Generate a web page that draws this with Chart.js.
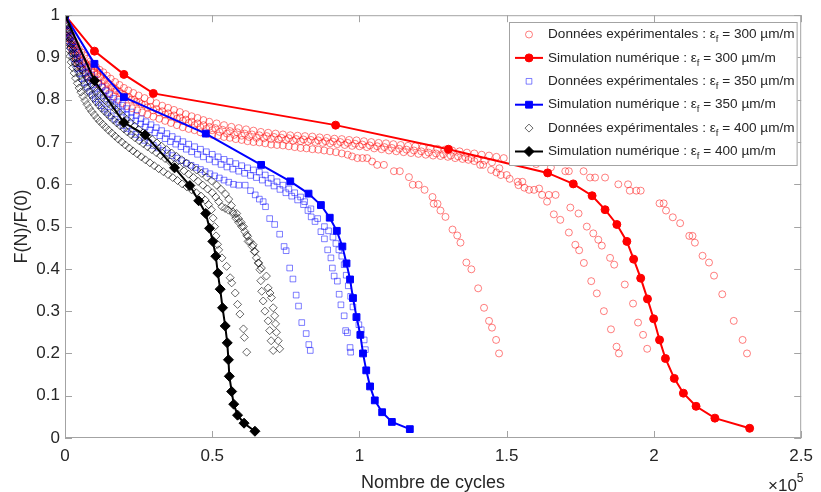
<!DOCTYPE html>
<html><head><meta charset="utf-8">
<script src="https://cdn.jsdelivr.net/npm/chart.js@4"></script>
<style>html,body{margin:0;padding:0;background:#fff}</style>
</head><body>
<canvas id="c" width="821" height="492" style="display:block;width:821px;height:492px"></canvas>
<script>
// x values are in units of 10^5 cycles, y = F(N)/F(0)
const xTicks = [0, 0.5, 1, 1.5, 2, 2.5];
const yTicks = [0, 0.1, 0.2, 0.3, 0.4, 0.5, 0.6, 0.7, 0.8, 0.9, 1];

const legendLabels = [
  ['Données expérimentales : ε', 'f', ' = 300 µm/m'],
  ['Simulation numérique : ε', 'f', ' = 300 µm/m'],
  ['Données expérimentales : ε', 'f', ' = 350 µm/m'],
  ['Simulation numérique : ε', 'f', ' = 350 µm/m'],
  ['Données expérimentales : ε', 'f', ' = 400 µm/m'],
  ['Simulation numérique : ε', 'f', ' = 400 µm/m']
];

// Simulations
const sim300 = [[0,1],[0.1,0.915],[0.2,0.86],[0.3,0.815],[0.919,0.74],[1.302,0.683],[1.639,0.627],[1.726,0.601],[1.79,0.573],[1.834,0.54],[1.874,0.505],[1.908,0.465],[1.931,0.423],[1.955,0.378],[1.978,0.329],[1.999,0.282],[2.019,0.232],[2.039,0.188],[2.069,0.141],[2.1,0.106],[2.143,0.075],[2.207,0.047],[2.325,0.023]];
const sim350 = [[0,1],[0.1,0.885],[0.2,0.806],[0.478,0.72],[0.666,0.646],[0.765,0.607],[0.827,0.578],[0.869,0.551],[0.899,0.521],[0.923,0.49],[0.942,0.453],[0.956,0.413],[0.968,0.375],[0.978,0.331],[0.99,0.286],[1.003,0.244],[1.012,0.2],[1.023,0.16],[1.036,0.122],[1.052,0.089],[1.077,0.061],[1.11,0.038],[1.171,0.021]];
const sim400 = [[0,1],[0.1,0.845],[0.2,0.746],[0.272,0.717],[0.372,0.639],[0.424,0.597],[0.454,0.561],[0.478,0.531],[0.491,0.496],[0.502,0.465],[0.512,0.43],[0.519,0.39],[0.527,0.352],[0.535,0.308],[0.544,0.265],[0.551,0.225],[0.555,0.185],[0.558,0.146],[0.566,0.11],[0.573,0.08],[0.586,0.054],[0.608,0.035],[0.645,0.016]];

// Experimental, 300 µm/m
const expR1 = [[0,1],[0.004,0.975],[0.008,0.96],[0.013,0.945],[0.018,0.93],[0.024,0.917],[0.03,0.905],[0.037,0.895],[0.045,0.885],[0.052,0.877],[0.06,0.87],[0.07,0.862],[0.08,0.855],[0.09,0.85],[0.1,0.845],[0.112,0.837],[0.125,0.83],[0.137,0.822],[0.15,0.815],[0.165,0.807],[0.18,0.8],[0.195,0.792],[0.21,0.785],[0.228,0.78],[0.245,0.775],[0.262,0.77],[0.28,0.765],[0.3,0.76],[0.32,0.755],[0.34,0.75],[0.36,0.745],[0.38,0.74],[0.4,0.735],[0.42,0.731],[0.44,0.728],[0.46,0.723],[0.48,0.72],[0.5,0.717],[0.52,0.715],[0.54,0.712],[0.56,0.71],[0.58,0.707],[0.6,0.705],[0.62,0.702],[0.64,0.7],[0.66,0.699],[0.68,0.697],[0.7,0.694],[0.72,0.693],[0.74,0.692],[0.76,0.69],[0.78,0.688],[0.8,0.686],[0.82,0.685],[0.84,0.683],[0.86,0.682],[0.88,0.68],[0.9,0.678],[0.92,0.676],[0.94,0.673],[0.96,0.67],[0.975,0.666],[0.993,0.662],[1.01,0.662],[1.026,0.662],[1.043,0.654],[1.06,0.646],[1.083,0.646],[1.117,0.631],[1.137,0.631],[1.168,0.617],[1.181,0.599],[1.201,0.599],[1.221,0.587],[1.248,0.57],[1.252,0.554],[1.265,0.554],[1.275,0.538],[1.292,0.523],[1.316,0.493],[1.332,0.479],[1.343,0.462],[1.363,0.415],[1.38,0.399],[1.403,0.354],[1.423,0.308],[1.44,0.277],[1.45,0.261],[1.464,0.232],[1.474,0.2]];
const expR2 = [[0,1],[0.005,0.978],[0.01,0.965],[0.016,0.952],[0.022,0.94],[0.028,0.93],[0.035,0.92],[0.042,0.91],[0.05,0.9],[0.06,0.892],[0.07,0.885],[0.08,0.877],[0.09,0.87],[0.1,0.865],[0.11,0.86],[0.122,0.852],[0.135,0.845],[0.147,0.837],[0.16,0.83],[0.175,0.822],[0.19,0.815],[0.207,0.808],[0.225,0.8],[0.242,0.795],[0.26,0.79],[0.28,0.782],[0.3,0.775],[0.32,0.77],[0.34,0.765],[0.36,0.76],[0.38,0.755],[0.4,0.75],[0.42,0.745],[0.44,0.74],[0.46,0.735],[0.48,0.731],[0.5,0.728],[0.525,0.724],[0.55,0.72],[0.575,0.717],[0.6,0.715],[0.625,0.712],[0.65,0.71],[0.675,0.709],[0.7,0.707],[0.725,0.706],[0.75,0.705],[0.775,0.703],[0.8,0.702],[0.825,0.701],[0.85,0.7],[0.875,0.698],[0.9,0.697],[0.925,0.695],[0.95,0.693],[0.975,0.691],[1.0,0.69],[1.025,0.688],[1.05,0.685],[1.075,0.683],[1.1,0.68],[1.125,0.678],[1.15,0.676],[1.175,0.674],[1.2,0.672],[1.225,0.67],[1.25,0.668],[1.275,0.667],[1.3,0.665],[1.325,0.662],[1.35,0.66],[1.37,0.658],[1.39,0.655],[1.41,0.646],[1.42,0.646],[1.447,0.634],[1.465,0.628],[1.48,0.622],[1.51,0.613],[1.54,0.598],[1.56,0.592],[1.576,0.587],[1.593,0.587],[1.62,0.575],[1.637,0.559],[1.66,0.529],[1.682,0.516],[1.711,0.486],[1.733,0.457],[1.746,0.444],[1.762,0.414],[1.787,0.371],[1.806,0.342],[1.83,0.3],[1.854,0.257],[1.873,0.216],[1.881,0.2]];
const expR3 = [[0,1],[0.006,0.975],[0.012,0.96],[0.019,0.947],[0.026,0.935],[0.033,0.925],[0.04,0.915],[0.049,0.905],[0.058,0.895],[0.068,0.887],[0.078,0.88],[0.089,0.873],[0.1,0.868],[0.11,0.861],[0.12,0.855],[0.132,0.847],[0.145,0.84],[0.157,0.833],[0.17,0.826],[0.185,0.819],[0.2,0.812],[0.217,0.806],[0.235,0.8],[0.252,0.794],[0.27,0.788],[0.29,0.783],[0.31,0.778],[0.33,0.773],[0.35,0.768],[0.37,0.763],[0.39,0.758],[0.41,0.753],[0.43,0.748],[0.45,0.744],[0.47,0.74],[0.49,0.736],[0.51,0.733],[0.535,0.729],[0.56,0.726],[0.585,0.723],[0.61,0.72],[0.635,0.718],[0.66,0.716],[0.685,0.714],[0.71,0.712],[0.735,0.71],[0.76,0.709],[0.785,0.707],[0.81,0.706],[0.835,0.705],[0.86,0.704],[0.885,0.702],[0.91,0.701],[0.935,0.7],[0.96,0.698],[0.985,0.696],[1.01,0.694],[1.035,0.692],[1.06,0.69],[1.085,0.688],[1.11,0.686],[1.135,0.684],[1.16,0.682],[1.185,0.68],[1.21,0.678],[1.235,0.675],[1.26,0.673],[1.285,0.671],[1.31,0.668],[1.335,0.666],[1.36,0.664],[1.38,0.662],[1.4,0.66],[1.425,0.656],[1.45,0.652],[1.475,0.638],[1.5,0.622],[1.537,0.606],[1.553,0.606],[1.61,0.59],[1.643,0.575],[1.666,0.575],[1.716,0.545],[1.744,0.531],[1.772,0.5],[1.794,0.484],[1.811,0.469],[1.823,0.455],[1.851,0.426],[1.865,0.41],[1.901,0.363],[1.929,0.318],[1.946,0.273],[1.963,0.244],[1.977,0.211]];
const expR4 = [[0,1],[0.007,0.98],[0.014,0.965],[0.022,0.952],[0.03,0.94],[0.038,0.93],[0.047,0.92],[0.056,0.912],[0.065,0.905],[0.075,0.897],[0.085,0.89],[0.095,0.884],[0.105,0.878],[0.117,0.871],[0.13,0.865],[0.142,0.857],[0.155,0.85],[0.17,0.842],[0.185,0.835],[0.2,0.828],[0.215,0.822],[0.232,0.816],[0.25,0.81],[0.27,0.804],[0.29,0.798],[0.31,0.792],[0.33,0.786],[0.35,0.781],[0.37,0.776],[0.39,0.771],[0.41,0.766],[0.43,0.761],[0.45,0.757],[0.47,0.752],[0.49,0.748],[0.515,0.744],[0.54,0.74],[0.565,0.736],[0.59,0.733],[0.615,0.73],[0.64,0.727],[0.665,0.724],[0.69,0.722],[0.715,0.72],[0.74,0.718],[0.765,0.716],[0.79,0.715],[0.815,0.714],[0.84,0.713],[0.865,0.711],[0.89,0.71],[0.915,0.708],[0.94,0.707],[0.965,0.705],[0.99,0.704],[1.015,0.702],[1.04,0.7],[1.065,0.698],[1.09,0.697],[1.115,0.695],[1.14,0.693],[1.165,0.691],[1.19,0.69],[1.215,0.688],[1.24,0.686],[1.265,0.684],[1.29,0.682],[1.315,0.68],[1.34,0.678],[1.365,0.675],[1.39,0.673],[1.415,0.67],[1.44,0.668],[1.465,0.665],[1.49,0.662],[1.55,0.655],[1.6,0.648],[1.65,0.64],[1.699,0.631],[1.711,0.631],[1.761,0.631],[1.783,0.616],[1.8,0.616],[1.834,0.616],[1.879,0.6],[1.912,0.6],[1.918,0.585],[1.94,0.585],[1.955,0.585],[2.019,0.555],[2.033,0.555],[2.041,0.538],[2.064,0.522],[2.089,0.508],[2.12,0.478],[2.131,0.478],[2.139,0.462],[2.165,0.431],[2.187,0.415],[2.204,0.384],[2.232,0.34],[2.271,0.277],[2.301,0.232],[2.316,0.2]];

// Experimental, 350 µm/m
const expB1 = [[0,1],[0.004,0.975],[0.008,0.958],[0.013,0.94],[0.018,0.925],[0.024,0.91],[0.03,0.897],[0.036,0.885],[0.043,0.873],[0.05,0.862],[0.058,0.85],[0.066,0.84],[0.075,0.83],[0.084,0.82],[0.093,0.811],[0.103,0.802],[0.113,0.794],[0.123,0.786],[0.134,0.778],[0.145,0.77],[0.157,0.762],[0.17,0.754],[0.183,0.747],[0.197,0.739],[0.21,0.732],[0.225,0.725],[0.24,0.718],[0.255,0.711],[0.27,0.704],[0.285,0.698],[0.3,0.692],[0.316,0.686],[0.332,0.68],[0.348,0.674],[0.364,0.668],[0.38,0.662],[0.396,0.656],[0.412,0.65],[0.428,0.645],[0.444,0.64],[0.46,0.635],[0.476,0.63],[0.492,0.625],[0.508,0.62],[0.524,0.615],[0.54,0.61],[0.556,0.605],[0.572,0.6],[0.59,0.598],[0.612,0.598],[0.63,0.585],[0.646,0.575],[0.66,0.565],[0.673,0.559],[0.681,0.547],[0.695,0.519],[0.712,0.505],[0.729,0.482],[0.744,0.453],[0.751,0.443],[0.763,0.402],[0.774,0.376],[0.785,0.338],[0.793,0.312],[0.804,0.273],[0.819,0.247],[0.828,0.221],[0.833,0.207]];
const expB2 = [[0,1],[0.005,0.978],[0.01,0.962],[0.016,0.947],[0.022,0.933],[0.028,0.92],[0.035,0.907],[0.042,0.896],[0.05,0.885],[0.059,0.874],[0.068,0.864],[0.077,0.854],[0.087,0.845],[0.097,0.836],[0.108,0.827],[0.119,0.818],[0.13,0.81],[0.142,0.802],[0.155,0.794],[0.168,0.786],[0.181,0.778],[0.195,0.771],[0.21,0.764],[0.225,0.757],[0.24,0.75],[0.256,0.743],[0.272,0.736],[0.288,0.729],[0.305,0.722],[0.322,0.715],[0.34,0.708],[0.358,0.701],[0.376,0.695],[0.394,0.689],[0.412,0.683],[0.43,0.677],[0.45,0.671],[0.47,0.665],[0.49,0.659],[0.51,0.653],[0.53,0.647],[0.55,0.641],[0.57,0.636],[0.59,0.631],[0.61,0.626],[0.63,0.621],[0.65,0.616],[0.67,0.61],[0.69,0.603],[0.71,0.596],[0.73,0.588],[0.75,0.58],[0.77,0.572],[0.79,0.563],[0.81,0.552],[0.825,0.538],[0.836,0.523],[0.849,0.512],[0.869,0.488],[0.881,0.471],[0.892,0.445],[0.903,0.426],[0.908,0.402],[0.914,0.383],[0.925,0.371],[0.931,0.34],[0.937,0.315],[0.948,0.289],[0.953,0.254],[0.959,0.249],[0.968,0.214],[0.97,0.203]];
const expB3 = [[0,1],[0.006,0.98],[0.012,0.965],[0.019,0.95],[0.026,0.937],[0.034,0.924],[0.042,0.912],[0.051,0.9],[0.06,0.889],[0.07,0.878],[0.08,0.868],[0.091,0.858],[0.102,0.848],[0.114,0.839],[0.126,0.83],[0.139,0.821],[0.152,0.812],[0.166,0.803],[0.18,0.795],[0.195,0.787],[0.21,0.779],[0.226,0.771],[0.242,0.763],[0.258,0.755],[0.275,0.748],[0.292,0.741],[0.31,0.734],[0.328,0.727],[0.346,0.72],[0.364,0.713],[0.382,0.707],[0.4,0.701],[0.42,0.695],[0.44,0.689],[0.46,0.683],[0.48,0.677],[0.5,0.671],[0.52,0.665],[0.54,0.659],[0.56,0.654],[0.58,0.649],[0.6,0.644],[0.62,0.639],[0.64,0.634],[0.66,0.629],[0.68,0.622],[0.7,0.614],[0.72,0.606],[0.74,0.598],[0.76,0.589],[0.78,0.58],[0.8,0.57],[0.814,0.559],[0.835,0.542],[0.858,0.519],[0.881,0.5],[0.895,0.49],[0.91,0.475],[0.92,0.46],[0.93,0.445],[0.94,0.43],[0.948,0.41],[0.955,0.385],[0.962,0.36],[0.97,0.335],[0.978,0.31],[0.988,0.285],[0.998,0.268],[1.006,0.256],[1.016,0.232],[1.02,0.209]];

// Experimental, 400 µm/m
const expK1 = [[0,1],[0.003,0.972],[0.006,0.952],[0.009,0.935],[0.013,0.918],[0.017,0.903],[0.021,0.889],[0.026,0.876],[0.031,0.863],[0.036,0.851],[0.042,0.839],[0.048,0.828],[0.054,0.818],[0.061,0.808],[0.068,0.798],[0.075,0.789],[0.083,0.78],[0.091,0.772],[0.1,0.764],[0.109,0.756],[0.118,0.749],[0.128,0.742],[0.138,0.735],[0.148,0.728],[0.159,0.721],[0.17,0.714],[0.181,0.707],[0.193,0.7],[0.205,0.693],[0.218,0.686],[0.231,0.679],[0.245,0.672],[0.259,0.665],[0.273,0.658],[0.288,0.651],[0.303,0.644],[0.318,0.637],[0.334,0.63],[0.35,0.623],[0.366,0.616],[0.382,0.609],[0.398,0.601],[0.414,0.594],[0.43,0.587],[0.446,0.58],[0.462,0.572],[0.476,0.563],[0.488,0.552],[0.497,0.54],[0.503,0.52],[0.508,0.5],[0.513,0.478],[0.518,0.458],[0.522,0.445],[0.533,0.426],[0.549,0.406],[0.561,0.379],[0.566,0.367],[0.578,0.343],[0.586,0.316],[0.594,0.293],[0.606,0.258],[0.609,0.238],[0.617,0.203]];
const expK2 = [[0,1],[0.004,0.978],[0.007,0.962],[0.011,0.948],[0.015,0.935],[0.019,0.922],[0.024,0.91],[0.029,0.898],[0.034,0.887],[0.04,0.876],[0.046,0.866],[0.052,0.856],[0.059,0.846],[0.066,0.837],[0.073,0.828],[0.081,0.819],[0.089,0.811],[0.097,0.803],[0.106,0.795],[0.115,0.787],[0.124,0.78],[0.134,0.773],[0.144,0.766],[0.154,0.759],[0.165,0.752],[0.176,0.745],[0.188,0.738],[0.2,0.731],[0.212,0.724],[0.225,0.717],[0.238,0.71],[0.252,0.703],[0.266,0.696],[0.28,0.689],[0.295,0.682],[0.31,0.675],[0.325,0.668],[0.34,0.661],[0.356,0.654],[0.372,0.647],[0.388,0.64],[0.404,0.632],[0.42,0.624],[0.436,0.616],[0.452,0.607],[0.468,0.598],[0.484,0.589],[0.5,0.58],[0.512,0.57],[0.522,0.559],[0.533,0.547],[0.544,0.543],[0.555,0.539],[0.57,0.535],[0.583,0.531],[0.589,0.519],[0.598,0.51],[0.606,0.5],[0.617,0.48],[0.622,0.465],[0.639,0.457],[0.645,0.441],[0.656,0.414],[0.662,0.398],[0.665,0.372],[0.668,0.347],[0.673,0.324],[0.679,0.3],[0.69,0.277],[0.695,0.254],[0.7,0.23],[0.707,0.207]];
const expK3 = [[0,1],[0.004,0.982],[0.008,0.968],[0.012,0.955],[0.017,0.943],[0.022,0.931],[0.027,0.92],[0.033,0.909],[0.039,0.899],[0.045,0.889],[0.052,0.879],[0.059,0.87],[0.066,0.861],[0.074,0.852],[0.082,0.844],[0.09,0.836],[0.099,0.828],[0.108,0.82],[0.118,0.812],[0.128,0.805],[0.138,0.798],[0.149,0.791],[0.16,0.784],[0.172,0.777],[0.184,0.77],[0.196,0.762],[0.209,0.754],[0.222,0.746],[0.236,0.738],[0.25,0.73],[0.265,0.722],[0.28,0.714],[0.296,0.706],[0.312,0.698],[0.328,0.69],[0.345,0.682],[0.362,0.674],[0.379,0.666],[0.396,0.658],[0.413,0.65],[0.43,0.642],[0.447,0.634],[0.464,0.626],[0.481,0.617],[0.498,0.608],[0.515,0.598],[0.53,0.588],[0.545,0.577],[0.556,0.565],[0.565,0.55],[0.572,0.53],[0.58,0.52],[0.59,0.51],[0.6,0.5],[0.611,0.488],[0.62,0.477],[0.628,0.465],[0.636,0.453],[0.643,0.441],[0.65,0.426],[0.658,0.414],[0.667,0.402],[0.684,0.383],[0.69,0.355],[0.696,0.343],[0.701,0.332],[0.707,0.308],[0.712,0.289],[0.715,0.27],[0.718,0.25],[0.724,0.23],[0.729,0.211]];

const pts = (...arrs) => arrs.flat().map(p => ({x: p[0], y: p[1]}));

const TXT = '#262626';
const FONT = '"Liberation Sans", Arial, Helvetica, sans-serif';

const expStyle = (color, style, r) => ({
  showLine: false, pointStyle: style, pointRadius: r, pointHoverRadius: r,
  pointBorderWidth: 1, pointBorderColor: color, pointBackgroundColor: 'rgba(0,0,0,0)',
  borderColor: color, backgroundColor: 'rgba(0,0,0,0)'
});
const simStyle = (color, style, r) => ({
  showLine: true, borderColor: color, borderWidth: 2, pointStyle: style,
  pointRadius: r, pointHoverRadius: r, pointBorderWidth: 1,
  pointBorderColor: color, pointBackgroundColor: color, backgroundColor: color
});

const RED_E = 'rgba(255,0,0,0.5)', BLUE_E = 'rgba(0,0,255,0.5)', BLACK_E = 'rgba(0,0,0,0.6)';

const datasets = [
  Object.assign({label: 'exp300', data: pts(expR1, expR2, expR3, expR4), order: 5}, expStyle(RED_E, 'circle', 3.5)),
  Object.assign({label: 'sim300', data: pts(sim300), order: 4}, simStyle('#ff0000', 'circle', 4)),
  Object.assign({label: 'exp350', data: pts(expB1, expB2, expB3), order: 3}, expStyle(BLUE_E, 'rect', 4)),
  Object.assign({label: 'sim350', data: pts(sim350), order: 2}, simStyle('#0000ff', 'rect', 4.8)),
  Object.assign({label: 'exp400', data: pts(expK1, expK2, expK3), order: 1}, expStyle(BLACK_E, 'rectRot', 4)),
  Object.assign({label: 'sim400', data: pts(sim400), order: 0}, simStyle('#000000', 'rectRot', 5))
];

const fmt = v => String(Math.round(v * 10) / 10);

const framePlugin = {
  id: 'frame',
  afterDatasetsDraw(chart) {
    const {ctx, chartArea: a, scales: {x, y}} = chart;
    ctx.save();
    ctx.strokeStyle = '#a3a3a3';
    ctx.lineWidth = 1;
    ctx.strokeRect(a.left + 0.5, a.top + 0.5, a.right - a.left - 1, a.bottom - a.top - 1);
    ctx.beginPath();
    const tl = 7;
    xTicks.forEach(v => {
      const px = Math.round(x.getPixelForValue(v)) + 0.5;
      ctx.moveTo(px, a.bottom); ctx.lineTo(px, a.bottom - tl);
      ctx.moveTo(px, a.top); ctx.lineTo(px, a.top + tl);
    });
    yTicks.forEach(v => {
      const py = Math.round(y.getPixelForValue(v)) + 0.5;
      ctx.moveTo(a.left, py); ctx.lineTo(a.left + tl, py);
      ctx.moveTo(a.right, py); ctx.lineTo(a.right - tl, py);
    });
    ctx.stroke();
    ctx.restore();
  },
  afterDraw(chart) {
    const {ctx, chartArea: a} = chart;
    ctx.save();
    // axis titles
    ctx.fillStyle = TXT;
    ctx.font = '18px ' + FONT;
    ctx.textAlign = 'center';
    ctx.textBaseline = 'alphabetic';
    ctx.fillText('Nombre de cycles', (a.left + a.right) / 2, 488);
    ctx.save();
    ctx.translate(27, (a.top + a.bottom) / 2);
    ctx.rotate(-Math.PI / 2);
    ctx.fillText('F(N)/F(0)', 0, 0);
    ctx.restore();
    // multiplier
    ctx.textAlign = 'left';
    ctx.font = '17px ' + FONT;
    ctx.fillText('×10', 768, 491);
    const w10 = ctx.measureText('×10').width;
    ctx.font = '12px ' + FONT;
    ctx.fillText('5', 768 + w10, 482);

    // legend
    const fMain = '13.6px ' + FONT, fSub = '9.5px ' + FONT;
    let maxW = 0;
    const widths = legendLabels.map(l => {
      ctx.font = fMain; const w1 = ctx.measureText(l[0]).width;
      ctx.font = fSub; const w2 = ctx.measureText(l[1]).width;
      ctx.font = fMain; const w3 = ctx.measureText(l[2]).width;
      const w = w1 + w2 + w3; maxW = Math.max(maxW, w); return [w1, w2, w3];
    });
    const boxL = 509, boxT = 22, rowH = 23.4, textX = 548;
    const boxR = Math.max(797, textX + maxW + 3), boxB = 166;
    ctx.fillStyle = '#ffffff';
    ctx.fillRect(boxL, boxT, boxR - boxL, boxB - boxT);
    ctx.strokeStyle = '#a3a3a3';
    ctx.lineWidth = 1;
    ctx.strokeRect(boxL + 0.5, boxT + 0.5, boxR - boxL - 1, boxB - boxT - 1);
    chart.data.datasets.forEach((ds, i) => {
      const cy = boxT + 12.5 + i * rowH;
      if (ds.showLine) {
        ctx.strokeStyle = ds.borderColor; ctx.lineWidth = 2;
        ctx.beginPath(); ctx.moveTo(515, cy); ctx.lineTo(543, cy); ctx.stroke();
      }
      ctx.strokeStyle = ds.pointBorderColor; ctx.fillStyle = ds.pointBackgroundColor;
      ctx.lineWidth = 1;
      Chart.helpers.drawPoint(ctx, {pointStyle: ds.pointStyle, radius: ds.pointRadius, rotation: 0, borderWidth: 1}, 529, cy);
      const [w1, w2] = widths[i];
      ctx.fillStyle = TXT;
      ctx.textBaseline = 'middle';
      ctx.font = fMain; ctx.fillText(legendLabels[i][0], textX, cy);
      ctx.font = fSub; ctx.fillText(legendLabels[i][1], textX + w1, cy + 5);
      ctx.font = fMain; ctx.fillText(legendLabels[i][2], textX + w1 + w2, cy);
    });
    ctx.restore();
  }
};

new Chart(document.getElementById('c'), {
  type: 'scatter',
  data: {datasets},
  options: {
    responsive: false, devicePixelRatio: 1, animation: false,
    layout: {padding: {left: 0, right: 13, top: 12, bottom: 0}},
    plugins: {legend: {display: false}, tooltip: {enabled: false}},
    scales: {
      x: {
        type: 'linear', min: 0, max: 2.5,
        afterBuildTicks: s => { s.ticks = xTicks.map(v => ({value: v})); },
        afterFit: s => { s.height = 54; },
        grid: {display: false, drawTicks: false}, border: {display: false},
        ticks: {callback: fmt, color: TXT, font: {size: 17, family: FONT}, padding: 8, maxRotation: 0}
      },
      y: {
        type: 'linear', min: 0, max: 1,
        afterBuildTicks: s => { s.ticks = yTicks.map(v => ({value: v})); },
        afterFit: s => { s.width = 65; },
        grid: {display: false, drawTicks: false}, border: {display: false},
        ticks: {callback: fmt, color: TXT, font: {size: 17, family: FONT}, padding: 5}
      }
    }
  },
  plugins: [framePlugin]
});
</script>
</body></html>
